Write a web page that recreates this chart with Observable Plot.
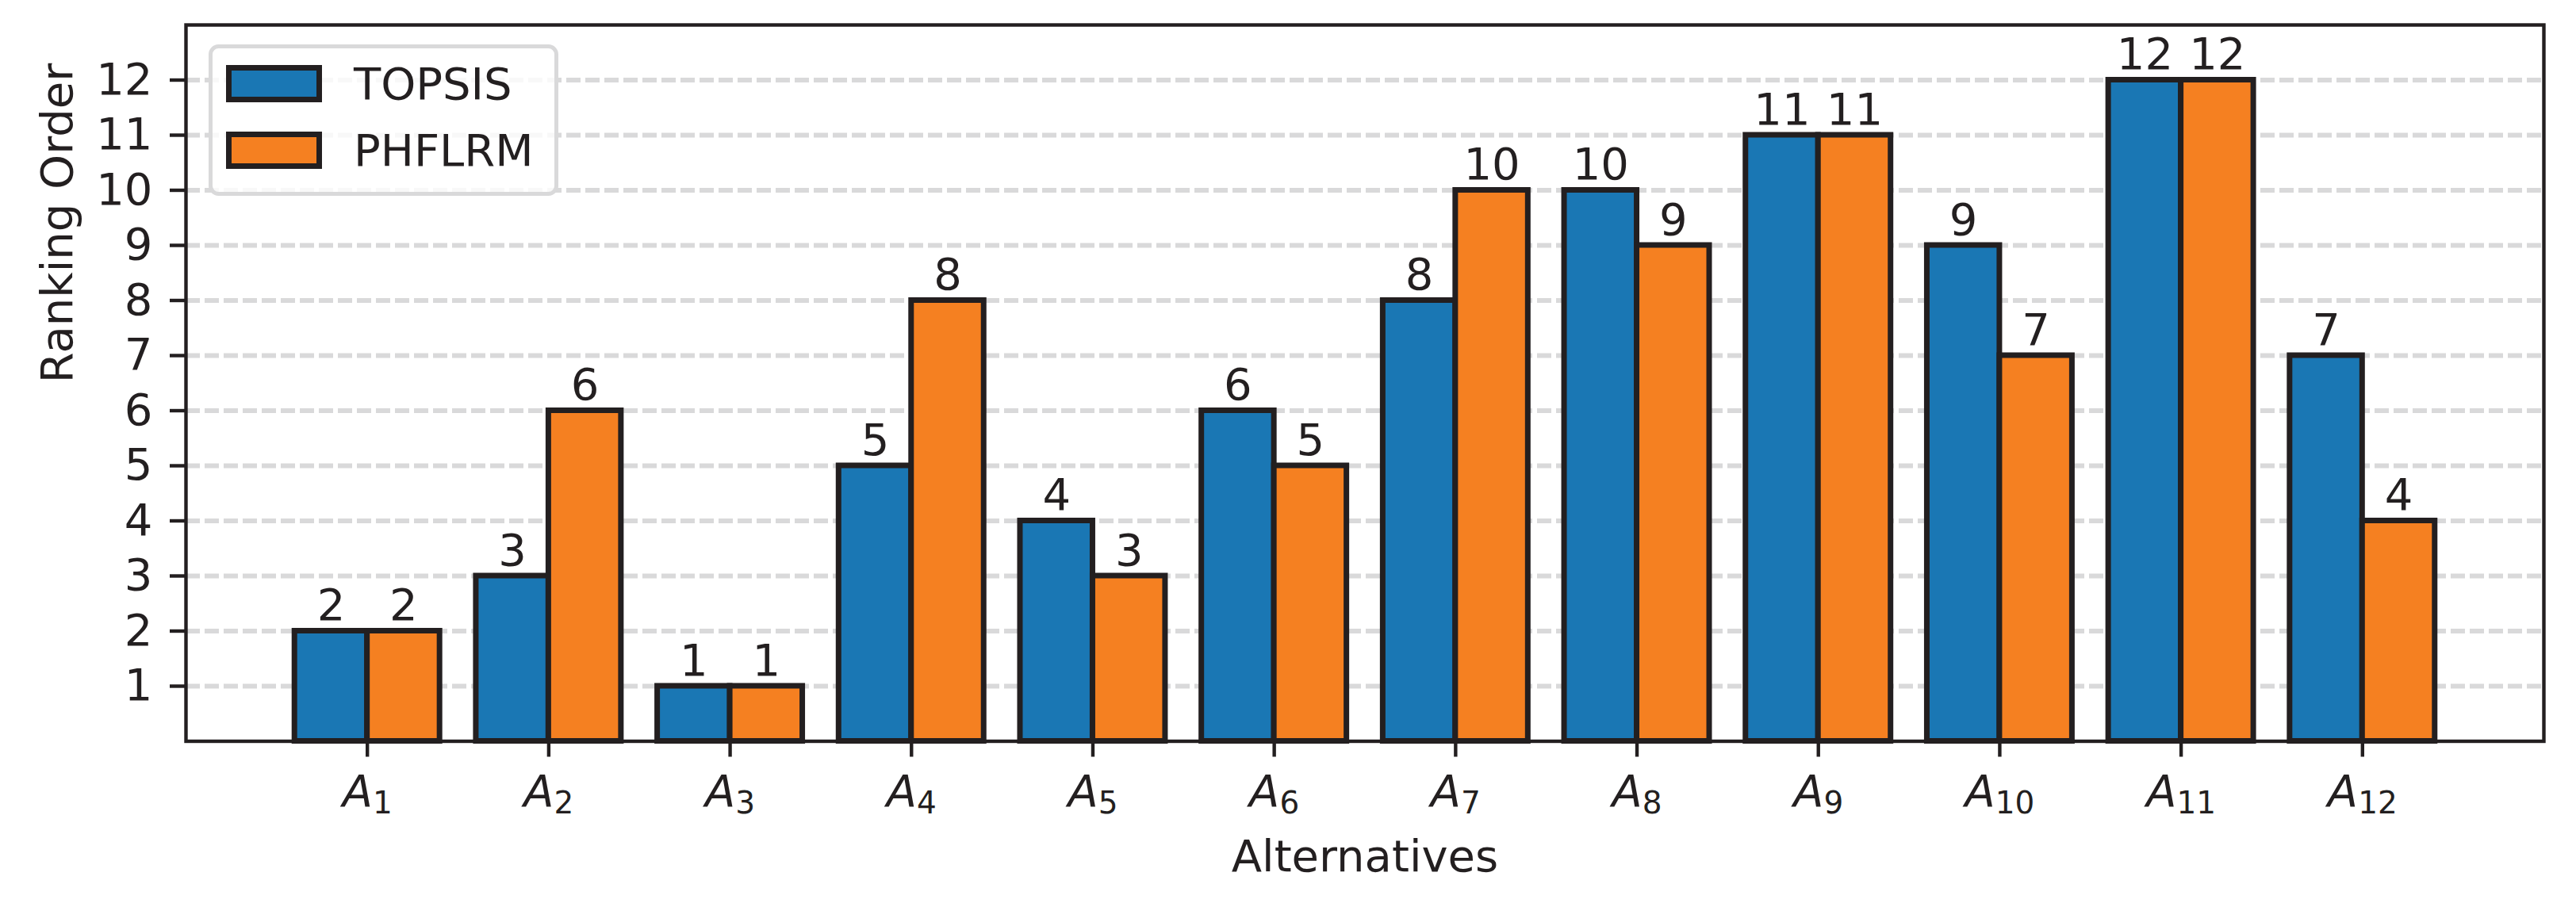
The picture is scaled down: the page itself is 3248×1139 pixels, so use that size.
<!DOCTYPE html>
<html><head><meta charset="utf-8">
<script src="https://cdn.jsdelivr.net/npm/d3@7"></script>
<script src="https://cdn.jsdelivr.net/npm/@observablehq/plot@0.6"></script>
<style>
html,body{margin:0;padding:0;background:#fff;}
#chart{position:relative;width:3248px;height:1139px;}
#chart g[aria-label="x-axis tick"], #chart g[aria-label="y-axis tick"]{stroke-width:4.4px;}
#chart g[aria-label="x-axis"] line, #chart g[aria-label="y-axis"] line{stroke-width:4.4px;}
</style></head><body><div id="chart"></div>
<script>
// ---- data ----
const categories = ["A1","A2","A3","A4","A5","A6","A7","A8","A9","A10","A11","A12"];
const series = ["TOPSIS","PHFLRM"];
const topsis = [2,3,1,5,4,6,8,10,11,9,12,7];
const phflrm = [2,6,1,8,3,5,10,9,11,7,12,4];
const yTicks = [1,2,3,4,5,6,7,8,9,10,11,12];
const xLabel = "Alternatives";
const yLabel = "Ranking Order";

// ---- style ----
const colors = ["#1a77b4", "#f58021"];
const ink = "#231f20";
const barWidth = 0.4;

const rows = categories.flatMap((c, i) => [
  {cat: c, i, series: series[0], value: topsis[i]},
  {cat: c, i, series: series[1], value: phflrm[i]}
]);
const first = d => d.series === series[0];

const svg = Plot.plot({
  width: 3248, height: 1139,
  marginTop: 31, marginRight: 41, marginBottom: 204.5, marginLeft: 234,
  style: {fontFamily: "DejaVu Sans", fontSize: "56px", color: ink, background: "transparent"},
  x: {domain: [-1, categories.length], ticks: d3.range(categories.length), tickFormat: i => categories[i], tickSize: 20, tickPadding: 22, label: null},
  y: {domain: [0, 13], ticks: yTicks, tickSize: 20, tickPadding: 22, label: null},
  color: {domain: series, range: colors},
  marks: [
    Plot.ruleY(yTicks, {stroke: "#d9d9da", strokeWidth: 6, strokeDasharray: "18,6"}),
    Plot.rectY(rows, {
      x1: d => d.i - (first(d) ? barWidth : 0),
      x2: d => d.i + (first(d) ? 0 : barWidth),
      y1: 0, y2: "value", fill: "series", stroke: ink, strokeWidth: 7
    }),
    Plot.text(rows, {
      x: d => d.i + (first(d) ? -barWidth / 2 : barWidth / 2),
      y: "value", text: d => String(d.value),
      lineAnchor: "bottom", dy: -14, fill: ink, fontSize: 56
    }),
    Plot.frame({stroke: ink, strokeWidth: 4.4}),
    Plot.text([xLabel], {frameAnchor: "bottom", lineAnchor: "bottom", dy: 163.5, fill: ink, fontSize: 56}),
    Plot.text([yLabel], {frameAnchor: "left", lineAnchor: "bottom", rotate: -90, dx: -144, fill: ink, fontSize: 56})
  ]
});

// subscripted tick labels A_n
d3.select(svg).selectAll("text").each(function () {
  const m = /^A(\d+)$/.exec(this.textContent);
  if (m) {
    const t = d3.select(this);
    t.text(null);
    t.append("tspan").attr("font-style", "italic").text("A");
    t.append("tspan").attr("font-size", "39px").attr("dy", 9).text(m[1]);
  }
});

// legend inside the frame
const lg = d3.select(svg).append("g").attr("font-family", "DejaVu Sans").attr("font-size", 56).attr("text-anchor", "start");
lg.append("rect").attr("x", 265.5).attr("y", 58.5).attr("width", 436).attr("height", 186).attr("rx", 10)
  .attr("fill", "white").attr("fill-opacity", 0.8).attr("stroke", "#d9d9da").attr("stroke-width", 5);
const rowY = [85.5, 169.5];
series.forEach((s, k) => {
  lg.append("rect").attr("x", 288.5).attr("y", rowY[k]).attr("width", 114).attr("height", 40)
    .attr("fill", colors[k]).attr("stroke", ink).attr("stroke-width", 7);
  lg.append("text").attr("x", 446).attr("y", rowY[k] + 39.5).attr("text-anchor", "start").attr("fill", ink).text(s);
});

document.getElementById("chart").appendChild(svg);
</script></body></html>
